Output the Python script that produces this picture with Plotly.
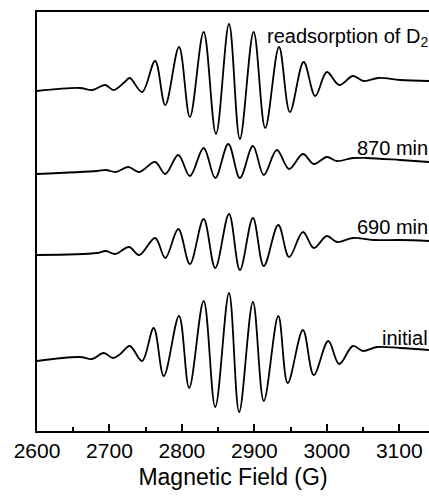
import plotly.graph_objects as go

# Magnetic field (G) and signal (arbitrary units, relative to each trace's left baseline)
field_readsorption = [2600, 2659, 2676, 2694, 2706, 2721, 2728, 2745, 2763, 2777, 2796, 2811, 2830, 2847,
                      2865, 2880, 2899, 2915, 2934, 2949, 2968, 2984, 3000, 3017, 3036, 3051, 3071, 3101, 3141]
signal_readsorption = [0, 3, 1, 6, 1, 9, 13, -1, 30, -14, 44, -26, 59, -43,
                       67, -48, 59, -37, 44, -21, 29, -5, 19, 6, 15, 10, 13, 11, 10]

field_870 = [2600, 2683, 2695, 2709, 2726, 2741, 2763, 2777, 2795, 2811, 2830, 2846, 2864, 2880,
             2898, 2913, 2931, 2948, 2967, 2982, 3000, 3014, 3036, 3055, 3101, 3141]
signal_870 = [0, 3, 4, 2, 7, 2, 12, 0, 19, -2, 26, -4, 30, -4,
              28, -1, 24, 5, 20, 10, 17, 13, 16, 16, 14, 12]

field_690 = [2600, 2683, 2695, 2708, 2727, 2741, 2763, 2777, 2795, 2811, 2830, 2846, 2865, 2880,
             2898, 2913, 2933, 2948, 2967, 2982, 3000, 3014, 3036, 3064, 3101, 3141]
signal_690 = [0, 2, 4, 1, 8, 0, 17, -3, 26, -9, 36, -13, 41, -15,
              37, -11, 30, -2, 23, 7, 19, 13, 17, 15, 15, 14]

field_initial = [2600, 2659, 2676, 2692, 2705, 2715, 2728, 2745, 2761, 2775, 2796, 2810, 2830, 2846,
                 2865, 2879, 2898, 2913, 2933, 2946, 2967, 2982, 3002, 3017, 3036, 3050, 3069, 3101, 3141]
signal_initial = [0, 4, 2, 8, 3, 7, 15, 0, 33, -15, 45, -27, 60, -46,
                  68, -51, 59, -40, 45, -22, 31, -14, 20, -3, 15, 10, 14, 13, 11]

labels = ["readsorption of D<sub>2</sub>", "870 min", "690 min", "initial"]
offsets = [340, 257, 176, 70]
fields = [field_readsorption, field_870, field_690, field_initial]
signals = [signal_readsorption, signal_870, signal_690, signal_initial]

tick_vals = [2600, 2700, 2800, 2900, 3000, 3100]

FONT = "Liberation Sans, Arial, sans-serif"

fig = go.Figure()
for f, s, off in zip(fields, signals, offsets):
    fig.add_trace(go.Scatter(
        x=f, y=[v + off for v in s], mode="lines",
        line=dict(color="black", width=1.8, shape="spline", smoothing=1.0),
        showlegend=False, hoverinfo="skip"))

label_y = [394, 283, 204, 93]
for txt, ly in zip(labels, label_y):
    fig.add_annotation(x=1.0, y=ly, xref="paper", yref="y", text=txt, showarrow=False,
                       xanchor="right", yanchor="middle", borderpad=0,
                       font=dict(family=FONT, size=20, color="black"))

fig.update_layout(
    width=429, height=496,
    margin=dict(l=37, r=0, t=12, b=65),
    plot_bgcolor="white", paper_bgcolor="white",
    font=dict(family=FONT, color="black"),
)
fig.update_xaxes(
    range=[2600, 3141], showgrid=False, zeroline=False,
    showline=True, linecolor="black", linewidth=2, mirror=True,
    tickmode="array", tickvals=tick_vals, ticktext=[str(t) for t in tick_vals],
    ticks="inside", ticklen=7, tickwidth=1.5, tickcolor="black",
    minor=dict(ticks="inside", ticklen=4, tickwidth=1.5, tickcolor="black", dtick=50, tick0=2600, showgrid=False),
    tickfont=dict(family=FONT, size=21, color="black"),
    title=dict(text="Magnetic Field (G)", font=dict(family=FONT, size=23, color="black"), standoff=8),
)
fig.update_yaxes(
    range=[0, 419], showgrid=False, zeroline=False, showticklabels=False,
    showline=True, linecolor="black", linewidth=2, mirror=False, ticks="",
)

fig.write_html("out.html")
